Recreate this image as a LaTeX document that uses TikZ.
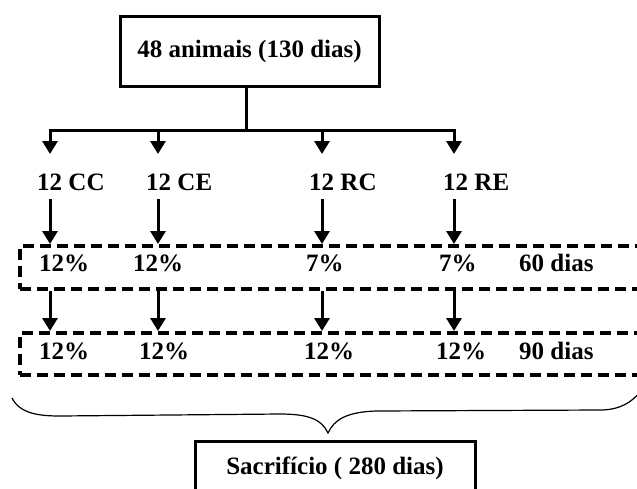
\documentclass[tikz,border=0pt]{standalone}
\usepackage{fontspec}
\setmainfont{Liberation Serif}
\usetikzlibrary{arrows.meta}
\begin{document}
\begin{tikzpicture}[x=1pt,y=-1pt,
	every node/.style={font=\fontsize{25}{30}\selectfont\bfseries},
	box/.style={draw,line width=3pt,inner sep=0pt},
	lbl/.style={anchor=base west,inner sep=0pt},
	dashbox/.style={draw,line width=3.5pt,dash pattern=on 11pt off 6pt,
		anchor=north west,minimum width=640pt,inner sep=0pt},
	line/.style={line width=3pt,line cap=rect},
	arr/.style={line width=3pt,-{Triangle[width=15pt,length=13pt]}}]
\useasboundingbox (0,0) rectangle (637,488);
\node[box,minimum width=259pt,minimum height=70pt] (animais) at (249.5,51) {48 animais (130 dias)};
\coordinate (hub) at (246,130);
\coordinate (kcc) at (50,130);
\coordinate (kce) at (158,130);
\coordinate (krc) at (322,130);
\coordinate (kre) at (454,130);
\node[lbl] (cc) at (37,190) {12 CC};
\node[lbl] (ce) at (146,190) {12 CE};
\node[lbl] (rc) at (309,190) {12 RC};
\node[lbl] (re) at (443,190) {12 RE};
\node[dashbox,minimum height=43pt] (row60) at (18,244) {};
\node[dashbox,minimum height=42pt] (row90) at (18,331) {};
\node[lbl] (p60cc) at (39,271) {12\%};
\node[lbl] (p60ce) at (133,271) {12\%};
\node[lbl] (p60rc) at (306,271) {7\%};
\node[lbl] (p60re) at (439,271) {7\%};
\node[lbl] (d60) at (519,271) {60 dias};
\node[lbl] (p90cc) at (39,359) {12\%};
\node[lbl] (p90ce) at (139,359) {12\%};
\node[lbl] (p90rc) at (304,359) {12\%};
\node[lbl] (p90re) at (436,359) {12\%};
\node[lbl] (d90) at (519,359) {90 dias};
\node[box,anchor=north,minimum width=280pt,text height=18pt,text depth=30pt,inner ysep=15pt] (sacrificio) at (335,440) {Sacrifício ( 280 dias)};
\draw[line] (animais.south -| hub) -- (hub);
\draw[line] (kcc) -- (kre);
\foreach \k/\g in {kcc/cc,kce/ce,krc/rc,kre/re}{
	\draw[arr] (\k) -- ++(0,24);
	\draw[arr] ([yshift=-9pt]\g.south -| \k) -- (\k |- row60.north);
	\draw[arr] (\k |- row60.south) -- (\k |- row90.north);
}
\draw[line width=1.2pt] (12,398) .. controls (20,414) and (40,416) .. (60,416) -- (280,414)
	.. controls (310,414) and (322,420) .. (328,433)
	.. controls (334,420) and (346,412) .. (376,411) -- (600,410)
	.. controls (620,410) and (632,402) .. (640,392);
\end{tikzpicture}
\end{document}
